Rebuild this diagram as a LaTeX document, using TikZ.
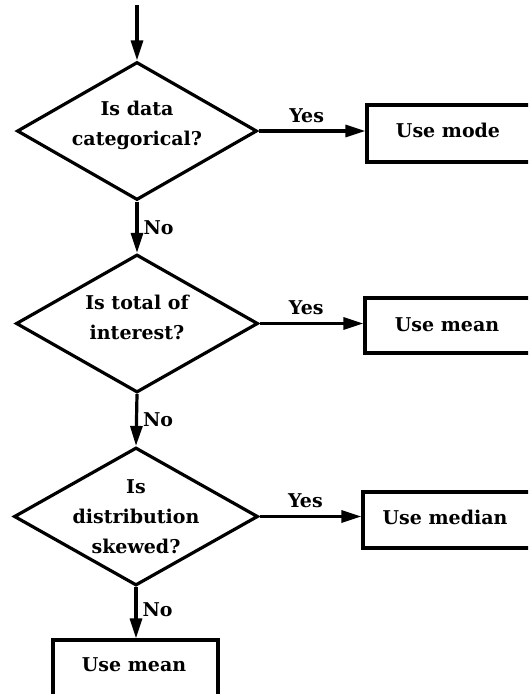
\documentclass[tikz,border=0pt]{standalone}
\usepackage{fontspec}
\setmainfont{DejaVu Serif}
\usetikzlibrary{shapes.geometric,arrows.meta}
\begin{document}
\begin{tikzpicture}[x=1pt,y=-1pt,
  line width=3.2pt,
  every node/.style={font=\fontsize{19}{30}\selectfont\bfseries},
  dia/.style={draw,shape=diamond,inner sep=0pt,minimum width=#1,minimum height=138pt},
  rbox/.style={draw,rectangle,inner sep=0pt},
  txt/.style={align=center,inner sep=0pt},
  arr/.style={-{Triangle[length=20pt,width=12pt]}},
  yeslbl/.style={above,pos=0.45,inner sep=7pt},
  nolbl/.style={right,inner sep=5pt}]
\useasboundingbox (0,0) rectangle (528,694);
\clip (0,0) rectangle (528,694);
% decisions
\node[dia=240pt] (d1) at (137,131) {};
\node[txt] (t1) at (137,125) {Is data\\categorical?};
\node[dia=242pt] (d2) at (137,323.5) {};
\node[txt] (t2) at (137,317.5) {Is total of\\interest?};
\node[dia=244pt] (d3) at (136,516.5) {};
\node[txt] (t3) at (136,517) {Is\\distribution\\skewed?};
% outcome boxes (cut by the page edge)
\node[rbox,minimum width=180pt,minimum height=57pt] (b1) at (457,133.5) {};
\node[txt] (u1) at (448,130) {Use mode};
\node[rbox,minimum width=180pt,minimum height=55pt] (b2) at (455,325.5) {};
\node[txt] (u2) at (447,325) {Use mean};
\node[rbox,minimum width=180pt,minimum height=56pt] (b3) at (453,520) {};
\node[txt] (u3) at (445,517) {Use median};
\node[rbox,minimum width=165pt,minimum height=70pt] (b4) at (135.5,675) {};
\node[txt] (u4) at (134,665) {Use mean};
% connectors
\coordinate (start) at (137,5);
\draw[arr] (start) -- (d1.north);
\draw[arr] (d1.east) -- node[yeslbl]{Yes} (d1.east -| b1.west);
\draw[arr] (d2.east) -- node[yeslbl]{Yes} (d2.east -| b2.west);
\draw[arr] (d3.east) -- node[yeslbl]{Yes} (d3.east -| b3.west);
\draw[arr] (d1.south) -- node[nolbl,pos=0.5]{No} (d2.north);
\draw[arr] (d2.south) -- node[nolbl,pos=0.5]{No} (d3.north);
\draw[arr] (d3.south) -- node[nolbl,pos=0.45]{No} (d3.south |- b4.north);
\end{tikzpicture}
\end{document}
